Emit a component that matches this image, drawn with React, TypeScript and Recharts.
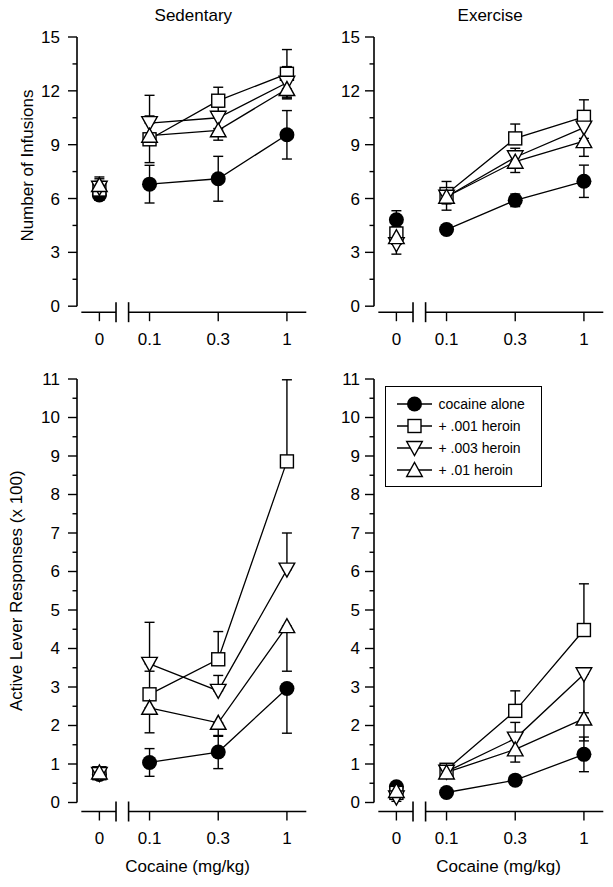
import { ErrorBar, Legend, Line, LineChart, ReferenceLine, XAxis, YAxis } from "recharts";

const FONT = '"Liberation Sans", Arial, Helvetica, sans-serif';

const doses = ["0", "0.1", "0.3", "1"];
const seriesNames = ["cocaine alone", "+ .001 heroin", "+ .003 heroin", "+ .01 heroin"];

type Err = number | [number, number];

// rows: cocaine alone, +.001, +.003, +.01 heroin; columns: doses
const sedInfusions = [
  [6.2, 6.8, 7.1, 9.55],
  [6.5, 9.3, 11.45, 12.95],
  [6.6, 10.2, 10.5, 12.45],
  [6.75, 9.5, 9.8, 12.1],
];
const sedInfusionsErr: Err[][] = [
  [0.3, 1.05, 1.25, 1.35],
  [0.45, [0, 2.45], [0, 0.75], 1.35],
  [0.5, [0, 0.4], 0.6, 0.9],
  [0.45, [1.5, 0], [0.55, 0], [0.45, 0]],
];

const exInfusions = [
  [4.82, 4.27, 5.9, 6.96],
  [4.05, 6.25, 9.35, 10.55],
  [3.45, 6.1, 8.3, 9.95],
  [3.85, 6.1, 8.05, 9.2],
];
const exInfusionsErr: Err[][] = [
  [0.5, 0.25, 0.35, 0.9],
  [0.4, [0, 0.7], [0, 0.8], [0, 0.95]],
  [[0.55, 0], 0.4, 0.5, 0.6],
  [0.4, [0.75, 0], [0.6, 0], [0.85, 0]],
];

const sedLever = [
  [0.73, 1.04, 1.31, 2.96],
  [0.76, 2.81, 3.72, 8.86],
  [0.74, 3.6, 2.9, 6.05],
  [0.78, 2.46, 2.07, 4.58],
];
const sedLeverErr: Err[][] = [
  [0.08, 0.36, 0.43, [1.16, 0]],
  [0.08, [0, 0.6], [0, 0.72], [0, 2.12]],
  [0.08, [0, 1.08], [0, 0.4], [0, 0.95]],
  [0.08, [0.65, 0], [0.35, 0], [1.17, 0]],
];

const exLever = [
  [0.41, 0.26, 0.58, 1.25],
  [0.25, 0.85, 2.38, 4.48],
  [0.13, 0.8, 1.66, 3.33],
  [0.3, 0.78, 1.38, 2.18],
];
const exLeverErr: Err[][] = [
  [0.06, 0.08, 0.1, 0.45],
  [0.08, [0, 0.1], [0, 0.52], [0, 1.2]],
  [[0.1, 0], 0.1, [0, 0.42], [1.0, 0]],
  [0.08, 0.12, [0.33, 0], [0.58, 0]],
];

const SERIES = [
  { key: "coc", shape: "circle" },
  { key: "h001", shape: "square" },
  { key: "h003", shape: "down" },
  { key: "h01", shape: "up" },
];

// slot of each dose on the broken x axis (0 sits left of the break)
const X_POS = [0.27, 1, 2, 3];
const X_MIN = -0.056;
const X_MAX = 3.282;
const BREAK_L = 0.512;
const BREAK_R = 0.695;

const PLOT_W = 229.3;
const Y_AXIS_W = 70;
const TOP_M = 37;
const RIGHT_M = 8;

const panels = [
  {
    title: "Sedentary", means: sedInfusions, errs: sedInfusionsErr,
    plotLeft: 76.7, plotTop: 37.3, plotHeight: 275.2, axisGap: 6, yMax: 15, yStep: 3,
    labelGap: 17, yLabel: "Number of Infusions", yLabelDx: -15, yLabelDy: -9, xAxisH: 45,
  },
  {
    title: "Exercise", means: exInfusions, errs: exInfusionsErr,
    plotLeft: 373.5, plotTop: 37.3, plotHeight: 275.2, axisGap: 6, yMax: 15, yStep: 3,
    labelGap: 14, xAxisH: 45,
  },
  {
    means: sedLever, errs: sedLeverErr,
    plotLeft: 76.7, plotTop: 379.2, plotHeight: 432.5, axisGap: 9, yMax: 11, yStep: 1,
    labelGap: 17, yLabel: "Active Lever Responses (x 100)", yLabelDx: -25.8, yLabelDy: -4.5,
    xAxisH: 70, xLabel: "Cocaine (mg/kg)", xLabelDx: -4,
  },
  {
    means: exLever, errs: exLeverErr,
    plotLeft: 373.5, plotTop: 379.2, plotHeight: 432.5, axisGap: 9, yMax: 11, yStep: 1,
    labelGap: 14, xAxisH: 70, xLabel: "Cocaine (mg/kg)", xLabelDx: 10, legend: true,
  },
];

function Marker({ cx, cy, shape }: { cx: number; cy: number; shape: string }) {
  const sw = 1.4;
  if (shape === "circle") return <circle cx={cx} cy={cy} r={7.5} fill="#000" />;
  if (shape === "square")
    return <rect x={cx - 6.5} y={cy - 6.5} width={13} height={13} fill="#fff" stroke="#000" strokeWidth={sw} />;
  const h = 6.5;
  const w = 7.8;
  const pts =
    shape === "down"
      ? `${cx - w},${cy - h} ${cx + w},${cy - h} ${cx},${cy + h + 1}`
      : `${cx - w},${cy + h} ${cx + w},${cy + h} ${cx},${cy - h - 1}`;
  return <polygon points={pts} fill="#fff" stroke="#000" strokeWidth={sw} />;
}

const dotFor = (shape: string) => (props: any) => {
  if (props.cx == null || props.cy == null) return <g key={`d-${props.index}`} />;
  return (
    <g key={`d-${props.index}`}>
      <Marker cx={props.cx} cy={props.cy} shape={shape} />
    </g>
  );
};

const yTickFor = (step: number, gap: number) => (props: any) => {
  const { x, y, payload } = props;
  const v = payload.value;
  const major = Math.abs(v / step - Math.round(v / step)) < 1e-6;
  return (
    <g>
      <line x1={x} x2={x - (major ? 9 : 4.5)} y1={y} y2={y} stroke="#000" strokeWidth={1.4} />
      {major && (
        <text x={x - gap} y={y + 6} textAnchor="end" fontSize={17} fontFamily={FONT} fill="#000">
          {v}
        </text>
      )}
    </g>
  );
};

const XTick = (props: any) => {
  const { x, y, payload } = props;
  const idx = X_POS.indexOf(payload.value);
  return (
    <g>
      <line x1={x} x2={x} y1={y} y2={y + 9} stroke="#000" strokeWidth={1.4} />
      <text x={x} y={y + 33} textAnchor="middle" fontSize={17} fontFamily={FONT} fill="#000">
        {doses[idx]}
      </text>
    </g>
  );
};

function LegendBox() {
  return (
    <div
      style={{
        width: 157, height: 101, border: "1.5px solid #000", boxSizing: "border-box",
        background: "#fff", position: "relative", fontFamily: FONT, fontSize: 14, color: "#000",
      }}
    >
      {SERIES.map((s, i) => (
        <div
          key={s.key}
          style={{ position: "absolute", left: -1.5, top: 6.5 + i * 22, height: 22, display: "flex", alignItems: "center" }}
        >
          <svg width={52} height={22} style={{ display: "block" }}>
            <line x1={12} x2={47} y1={11} y2={11} stroke="#000" strokeWidth={1.3} />
            <Marker cx={29.5} cy={11} shape={s.shape} />
          </svg>
          <span style={{ marginLeft: 2, lineHeight: "22px", whiteSpace: "nowrap" }}>{seriesNames[i]}</span>
        </div>
      ))}
    </div>
  );
}

function Panel({ p }: { p: any }) {
  const yMin = (-p.axisGap * p.yMax) / (p.plotHeight - p.axisGap);
  const pxPerUnit = (p.plotHeight - p.axisGap) / p.yMax;
  const breakHalf = 10 / pxPerUnit;
  const chartLeft = p.plotLeft - Y_AXIS_W;
  const chartTop = p.plotTop - TOP_M;
  const width = Y_AXIS_W + PLOT_W + RIGHT_M;
  const height = TOP_M + p.plotHeight + p.xAxisH;

  const yTicks: number[] = [];
  for (let v = 0; v <= p.yMax + 1e-9; v += p.yStep / 2) yTicks.push(Math.round(v * 100) / 100);

  const rows = doses.slice(1).map((_, i) => {
    const r: any = { x: X_POS[i + 1] };
    SERIES.forEach((s, k) => {
      r[s.key] = p.means[k][i + 1];
      r[s.key + "Err"] = p.errs[k][i + 1];
    });
    return r;
  });
  const baseRow = (k: number) => [{ x: X_POS[0], v: p.means[k][0], e: p.errs[k][0] }];

  const axisStyle = { stroke: "#000", strokeWidth: 1.6, ifOverflow: "visible" as const };

  return (
    <>
      {p.title && (
        <div
          style={{
            position: "absolute", left: p.plotLeft + 2, top: 6, width: PLOT_W, textAlign: "center",
            fontSize: 17, lineHeight: "20px", color: "#000", fontFamily: FONT,
          }}
        >
          {p.title}
        </div>
      )}
      <div style={{ position: "absolute", left: chartLeft, top: chartTop }}>
        <LineChart width={width} height={height} data={rows} margin={{ top: TOP_M, right: RIGHT_M, left: 0, bottom: 0 }}>
          <XAxis
            type="number"
            dataKey="x"
            domain={[X_MIN, X_MAX]}
            allowDataOverflow
            ticks={X_POS}
            interval={0}
            height={p.xAxisH}
            axisLine={false}
            tickLine={false}
            tickSize={0}
            tickMargin={0}
            tick={XTick}
            label={
              p.xLabel
                ? {
                    value: p.xLabel, position: "center", dx: p.xLabelDx, dy: 19.2,
                    fontSize: 17, fill: "#000", fontFamily: FONT,
                  }
                : undefined
            }
          />
          <YAxis
            type="number"
            domain={[yMin, p.yMax]}
            allowDataOverflow
            ticks={yTicks}
            interval={0}
            width={Y_AXIS_W}
            axisLine={false}
            tickLine={false}
            tickSize={0}
            tickMargin={0}
            tick={yTickFor(p.yStep, p.labelGap)}
            label={
              p.yLabel
                ? {
                    value: p.yLabel, angle: -90, position: "center", dx: p.yLabelDx, dy: p.yLabelDy,
                    fontSize: 17, fill: "#000", fontFamily: FONT,
                  }
                : undefined
            }
          />
          {/* offset axes with a break between 0 and 0.1 */}
          <ReferenceLine segment={[{ x: X_MIN, y: 0 }, { x: X_MIN, y: p.yMax }]} {...axisStyle} />
          <ReferenceLine segment={[{ x: 0.007, y: yMin }, { x: BREAK_L, y: yMin }]} {...axisStyle} />
          <ReferenceLine segment={[{ x: BREAK_R, y: yMin }, { x: X_MAX, y: yMin }]} {...axisStyle} />
          <ReferenceLine segment={[{ x: BREAK_L, y: yMin - breakHalf }, { x: BREAK_L, y: yMin + breakHalf }]} {...axisStyle} />
          <ReferenceLine segment={[{ x: BREAK_R, y: yMin - breakHalf }, { x: BREAK_R, y: yMin + breakHalf }]} {...axisStyle} />

          {SERIES.map((s, k) => (
            <Line
              key={s.key + "-base"}
              data={baseRow(k)}
              dataKey="v"
              stroke="none"
              dot={dotFor(s.shape)}
              activeDot={false}
              legendType="none"
              isAnimationActive={false}
            >
              <ErrorBar dataKey="e" direction="y" width={5} stroke="#000" strokeWidth={1.4} />
            </Line>
          ))}
          {SERIES.map((s, k) => (
            <Line
              key={s.key}
              dataKey={s.key}
              name={seriesNames[k]}
              stroke="#000"
              strokeWidth={1.3}
              dot={dotFor(s.shape)}
              activeDot={false}
              isAnimationActive={false}
            >
              <ErrorBar dataKey={s.key + "Err"} direction="y" width={5} stroke="#000" strokeWidth={1.4} />
            </Line>
          ))}
          {p.legend && (
            <Legend
              layout="vertical"
              align="center"
              verticalAlign="middle"
              wrapperStyle={{ left: 385 - chartLeft, top: 386 - chartTop, width: 157, height: 101 }}
              content={() => <LegendBox />}
            />
          )}
        </LineChart>
      </div>
    </>
  );
}

export default function App() {
  return (
    <div
      style={{
        position: "absolute", left: 0, top: 0, width: 613, height: 887,
        background: "#fff", fontFamily: FONT, overflow: "hidden",
      }}
    >
      {panels.map((p, i) => (
        <Panel key={i} p={p} />
      ))}
    </div>
  );
}
